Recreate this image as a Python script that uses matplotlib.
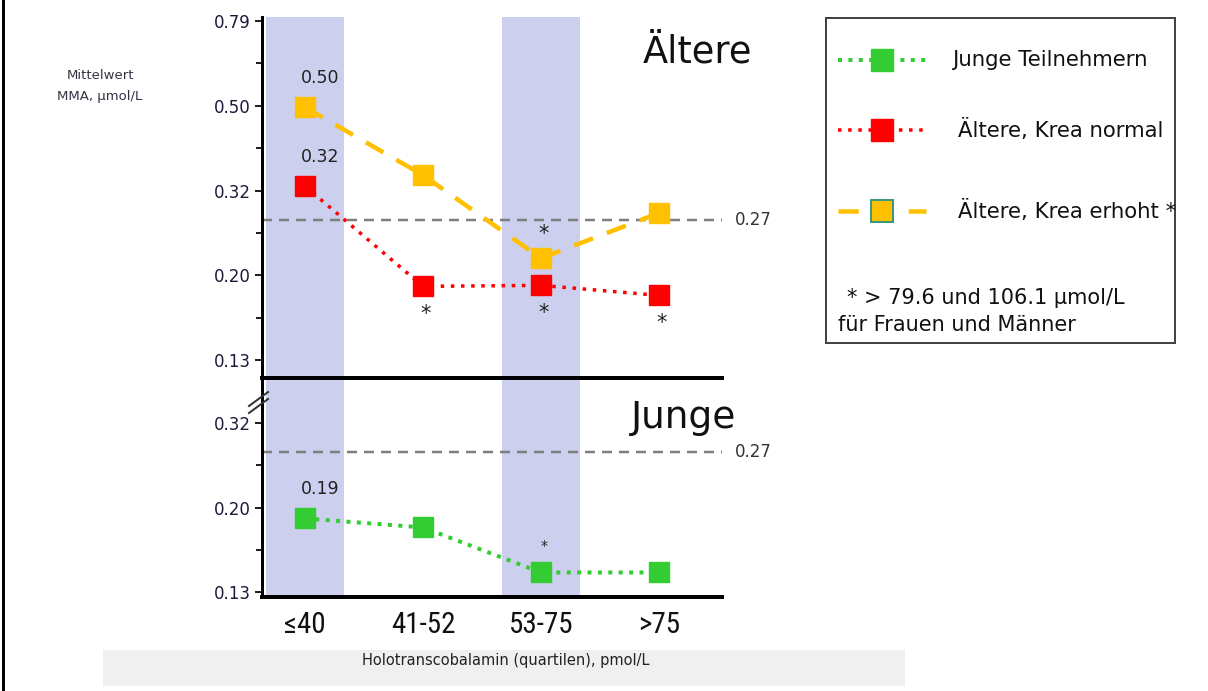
import numpy as np
import matplotlib
matplotlib.use("Agg")
import matplotlib.pyplot as plt
from matplotlib import font_manager
from matplotlib.lines import Line2D
from matplotlib.patches import Rectangle
from matplotlib.transforms import blended_transform_factory

# ---- data -------------------------------------------------------------
categories = ["≤40", "41-52", "53-75", ">75"]
aeltere_erhoeht = [0.497, 0.344, 0.219, 0.280]   # Ältere, Krea erhoht
aeltere_normal = [0.324, 0.188, 0.189, 0.179]    # Ältere, Krea normal
junge = [0.188, 0.179, 0.140, 0.140]             # Junge Teilnehmern
cutoff = 0.27
shaded = [0, 2]

# which points carry a value label / an asterisk
value_labels = {"erhoeht": [0], "normal": [0], "junge": [0]}
stars_above = {"erhoeht": [2], "junge": [2]}
stars_below = {"normal": [1, 2, 3]}

upper_ticks = 10 ** np.arange(-0.1, -0.95, -0.2)
upper_minor = 10 ** np.arange(-0.2, -0.95, -0.2)
lower_ticks = 10 ** np.arange(-0.5, -0.95, -0.2)
lower_minor = 10 ** np.arange(-0.6, -0.95, -0.2)


def pick_family(names):
    avail = {f.name for f in font_manager.fontManager.ttflist}
    for n in names:
        if n in avail:
            return n
    return "DejaVu Sans"


narrow = pick_family(["Liberation Sans Narrow", "DejaVu Sans Condensed", "Roboto Condensed", "DejaVu Sans"])

plt.rcParams["font.family"] = ["DejaVu Sans"]

W, H = 1208, 691
fig = plt.figure(figsize=(W / 100, H / 100), dpi=100)
fig.patch.set_facecolor("white")

def px(v):
    return v * 0.72  # pixels -> points

ax_bot = fig.add_axes([262 / W, 1 - 597 / H, 460 / W, (597 - 378) / H])
ax_top = fig.add_axes([262 / W, 1 - 378 / H, 460 / W, (378 - 17) / H])
for ax in (ax_top, ax_bot):
    ax.patch.set_visible(False)

x = np.arange(len(categories))
xlim = (-0.364, 3.534)

styles = {
    "erhoeht": dict(color="#FFC000", lw=px(4.5), ls=(0, (4.5, 3.3)), marker="s",
                    ms=px(20), mfc="#FFC000", mec="#FFC000", dash_capstyle="butt"),
    "normal": dict(color="#FF0000", lw=px(3.5), ls=(0, (1.0, 1.9)), marker="s",
                   ms=px(20), mfc="#FF0000", mec="#FF0000"),
    "junge": dict(color="#33CC33", lw=px(4), ls=(0, (1.0, 1.6)), marker="s",
                  ms=px(20), mfc="#33CC33", mec="#33CC33"),
}
series = {"erhoeht": aeltere_erhoeht, "normal": aeltere_normal, "junge": junge}
panel = {"erhoeht": ax_top, "normal": ax_top, "junge": ax_bot}

for ax in (ax_top, ax_bot):
    ax.set_xlim(*xlim)
    ax.set_yscale("log")
    for i in shaded:
        ax.axvspan(i - 0.33, i + 0.33, color="#CDCFEE", lw=0, zorder=0)
    ax.axhline(cutoff, color="#7F7F7F", lw=px(2.5), ls=(0, (4, 2.8)), zorder=1)
    tr = blended_transform_factory(ax.transAxes, ax.transData)
    ax.text(1 + 13 / 460, cutoff, f"{cutoff:.2f}", transform=tr, ha="left",
            va="center", fontsize=12, color="#333333")
    for s in ("top", "right"):
        ax.spines[s].set_visible(False)
    ax.spines["left"].set_linewidth(px(3))
    ax.set_xticks(x)
    ax.tick_params(axis="y", which="both", direction="out", width=px(2),
                   color="#222222", labelsize=12, labelcolor="#1A1A3A", pad=3)
    ax.tick_params(axis="y", which="major", length=px(7))
    ax.tick_params(axis="y", which="minor", length=px(6))
    ax.yaxis.set_minor_formatter(plt.NullFormatter())

ax_top.set_ylim(10 ** -0.942, 10 ** -0.0906)
ax_top.set_yticks(upper_ticks)
ax_top.set_yticks(upper_minor, minor=True)
ax_top.set_yticklabels([f"{v:.2f}" for v in upper_ticks])
ax_top.spines["bottom"].set_linewidth(px(4))
ax_top.tick_params(axis="x", which="both", length=0, labelbottom=False)

ax_bot.set_ylim(10 ** -0.912, 10 ** -0.393)
ax_bot.set_yticks(lower_ticks)
ax_bot.set_yticks(lower_minor, minor=True)
ax_bot.set_yticklabels([f"{v:.2f}" for v in lower_ticks])
ax_bot.spines["bottom"].set_linewidth(px(4))
ax_bot.tick_params(axis="x", which="both", length=0, pad=10)
ax_bot.set_xticklabels(categories, fontsize=21, family=narrow, color="#111111")

for key, vals in series.items():
    ax = panel[key]
    ax.plot(x, vals, zorder=3, **styles[key])
    for i in value_labels.get(key, []):
        ax.annotate(f"{vals[i]:.2f}", (x[i], vals[i]), xytext=(px(15), px(29)),
                    textcoords="offset points", ha="center", va="center",
                    fontsize=12.5, color="#222222", zorder=4)
    for i in stars_above.get(key, []):
        small = key == "junge"
        ax.annotate("*", (x[i], vals[i]), xytext=(px(3), px(24 if not small else 26)),
                    textcoords="offset points", ha="center", va="center",
                    fontsize=10 if small else 15, color="#222222", zorder=4)
    for i in stars_below.get(key, []):
        ax.annotate("*", (x[i], vals[i]), xytext=(px(3), -px(28)),
                    textcoords="offset points", ha="center", va="center",
                    fontsize=15, color="#222222", zorder=4)

# panel titles
fig.text(697 / W, 1 - 52 / H, "Ältere", ha="center", va="center", fontsize=26.5, color="#111111")
fig.text(684 / W, 1 - 418 / H, "Junge", ha="center", va="center", fontsize=27, color="#111111")

# axis break marks on the left spine
for dy in (0, 7):
    fig.add_artist(Line2D([249 / W, 268 / W], [1 - (406 + dy) / H, 1 - (392 + dy) / H],
                          color="#333333", lw=px(2)))

# y axis caption
fig.text(100 / W, 1 - 86 / H, "Mittelwert\nMMA, µmol/L", ha="center", va="center",
         fontsize=9.5, color="#333344", linespacing=1.75)

# x axis caption on a grey strip
fig.add_artist(Rectangle((103 / W, 1 - 686 / H), 802 / W, 36 / H, facecolor="#F0F0F0",
                         edgecolor="none", transform=fig.transFigure, zorder=0))
fig.text(506 / W, 1 - 661 / H, "Holotranscobalamin (quartilen), pmol/L", ha="center",
         va="center", fontsize=10.5, color="#222222")

# left frame line
fig.add_artist(Line2D([3 / W, 3 / W], [0, 1], color="black", lw=px(3)))

# legend box
lg = fig.add_axes([826 / W, 1 - 343 / H, 349 / W, 325 / H])
lg.set_xlim(826, 1175)
lg.set_ylim(343, 18)
lg.set_xticks([])
lg.set_yticks([])
for s in lg.spines.values():
    s.set_color("#444444")
    s.set_linewidth(px(2))

legend_rows = [
    ("junge", "Junge Teilnehmern", 60, 952),
    ("normal", "Ältere, Krea normal", 130, 958),
    ("erhoeht", "Ältere, Krea erhoht *", 211, 958),
]
for key, label, yrow, xtext in legend_rows:
    st = dict(styles[key])
    st.pop("marker")
    lg.plot([838, 926], [yrow, yrow], **{k: v for k, v in st.items() if k not in ("ms", "mfc", "mec")})
    lg.plot([882], [yrow], ls="none", marker="s", ms=px(23), mfc=styles[key]["mfc"],
            mec="#3A9A7A" if key == "erhoeht" else styles[key]["mec"], mew=px(2) if key == "erhoeht" else 1)
    lg.text(xtext, yrow, label, ha="left", va="center", fontsize=15.3, color="#111111")

lg.text(847, 298, "* > 79.6 und 106.1 µmol/L", ha="left", va="center", fontsize=15, color="#111111")
lg.text(838, 325, "für Frauen und Männer", ha="left", va="center", fontsize=15, color="#111111")

fig.savefig("out.png", dpi=100)
